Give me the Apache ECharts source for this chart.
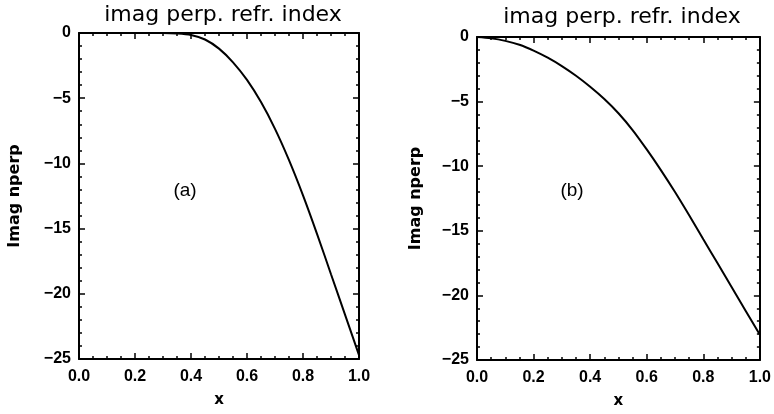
<!DOCTYPE html>
<html>
<head>
<meta charset="utf-8">
<script src="https://cdn.jsdelivr.net/npm/echarts@6/dist/echarts.min.js"></script>
<style>
  html, body { margin: 0; padding: 0; background: #fff; }
  #chart { width: 774px; height: 414px; }
</style>
</head>
<body>
<div id="chart"></div>
<script>
// data
const xA = [0, 0.1, 0.2, 0.3, 0.35, 0.4, 0.45, 0.5, 0.55, 0.6, 0.65, 0.7, 0.75, 0.8, 0.85, 0.9, 0.95, 1.0]
const yA = [0, 0, 0, 0, -0.03, -0.15, -0.5, -1.2, -2.25, -3.6, -5.3, -7.35, -9.75, -12.45, -15.4, -18.5, -21.6, -24.7]
const xB = [0, 0.05, 0.1, 0.15, 0.2, 0.25, 0.3, 0.35, 0.4, 0.45, 0.5, 0.55, 0.6, 0.65, 0.7, 0.75, 0.8, 0.85, 0.9, 0.95, 1.0]
const yB = [0, -0.1, -0.3, -0.6, -1.05, -1.6, -2.25, -3.0, -3.85, -4.8, -5.9, -7.2, -8.7, -10.3, -12.0, -13.8, -15.65, -17.5, -19.35, -21.2, -23.05]
const xTicks = ['0.0', '0.2', '0.4', '0.6', '0.8', '1.0']
const titleText = 'imag perp. refr. index'
const yName = 'Imag nperp'
const panelLabels = ['(a)', '(b)']

const grids = [
  { left: 79, top: 33, width: 280, height: 326 },
  { left: 477, top: 37, width: 283, height: 325 }
]

const tickFont = { fontFamily: 'Liberation Sans', fontWeight: 'bold', fontSize: 16, color: '#000' }
const lineStyle = { color: '#000', width: 2 }
const majorTick = { show: true, inside: true, length: 6, lineStyle: { color: '#000', width: 1.5 } }

const fmtY = v => String(v).replace('-', '\u2212')

const makeX = (g, withLabels) => ({
  type: 'value', gridIndex: g, min: 0, max: 1, interval: 0.2,
  position: withLabels ? 'bottom' : 'top',
  name: withLabels ? 'x' : '',
  nameLocation: 'middle', nameGap: 34,
  nameTextStyle: { fontFamily: 'DejaVu Sans', fontWeight: 'bold', fontSize: 15, color: '#000' },
  axisLine: { show: true, onZero: false, lineStyle },
  axisTick: majorTick,
  minorTick: { show: true, splitNumber: 4, length: 3, lineStyle: { color: '#000', width: 1.5 } },
  splitLine: { show: false },
  axisLabel: {
    show: withLabels, margin: 10, ...tickFont,
    formatter: v => xTicks[Math.round(v / 0.2)]
  }
})

const makeY = (g, withLabels) => ({
  type: 'value', gridIndex: g, min: -25, max: 0, interval: 5,
  position: withLabels ? 'left' : 'right',
  name: withLabels ? yName : '',
  nameLocation: 'middle', nameGap: g === 0 ? 56 : 53,
  nameRotate: 90,
  nameTextStyle: { fontFamily: 'DejaVu Sans', fontWeight: 'bold', fontSize: 16, color: '#000' },
  axisLine: { show: true, onZero: false, lineStyle },
  axisTick: majorTick,
  minorTick: { show: true, splitNumber: 5, length: 3, lineStyle: { color: '#000', width: 1.5 } },
  splitLine: { show: false },
  axisLabel: { show: withLabels, margin: 8, ...tickFont, formatter: fmtY }
})

const chart = echarts.init(document.getElementById('chart'))

chart.setOption({
  animation: false,
  backgroundColor: '#fff',
  title: [
    { text: titleText, left: 218, top: -1, textAlign: 'center',
      textStyle: { fontFamily: 'DejaVu Sans', fontWeight: 'normal', fontSize: 22, color: '#000' } },
    { text: titleText, left: 617, top: 1, textAlign: 'center',
      textStyle: { fontFamily: 'DejaVu Sans', fontWeight: 'normal', fontSize: 22, color: '#000' } },
    { text: panelLabels[0], left: 180, top: 176, textAlign: 'center',
      textStyle: { fontFamily: 'Liberation Sans', fontWeight: 'normal', fontSize: 19, color: '#000' } },
    { text: panelLabels[1], left: 567, top: 176, textAlign: 'center',
      textStyle: { fontFamily: 'Liberation Sans', fontWeight: 'normal', fontSize: 19, color: '#000' } }
  ],
  grid: grids,
  xAxis: [makeX(0, true), makeX(0, false), makeX(1, true), makeX(1, false)],
  yAxis: [makeY(0, true), makeY(0, false), makeY(1, true), makeY(1, false)],
  series: [
    {
      type: 'line', xAxisIndex: 0, yAxisIndex: 0, smooth: 0.3, showSymbol: false,
      lineStyle: { color: '#000', width: 2 },
      data: xA.map((x, i) => [x, yA[i]])
    },
    {
      type: 'line', xAxisIndex: 2, yAxisIndex: 2, smooth: 0.3, showSymbol: false,
      lineStyle: { color: '#000', width: 2 },
      data: xB.map((x, i) => [x, yB[i]])
    }
  ]
})
</script>
</body>
</html>
